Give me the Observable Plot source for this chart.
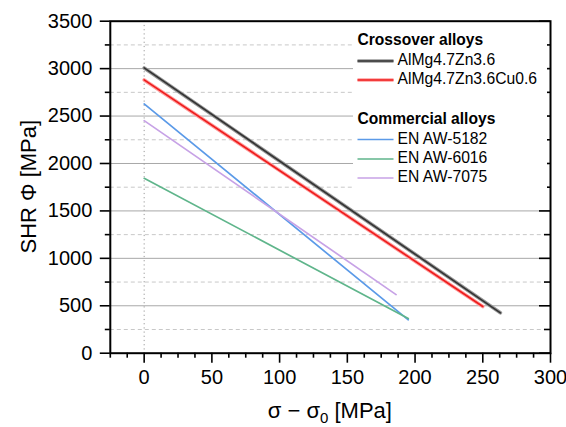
<!DOCTYPE html>
<html><head><meta charset="utf-8">
<script src="https://cdn.jsdelivr.net/npm/d3@7"></script>
<script src="https://cdn.jsdelivr.net/npm/@observablehq/plot@0.6"></script>
<style>
html,body{margin:0;padding:0;background:#fff;}
#chart{width:566px;height:427px;}
</style>
</head><body><div id="chart"></div>
<script>
// Series: straight lines, [x0, y0] -> [x1, y1]
const seriesNames = ["AlMg4.7Zn3.6", "AlMg4.7Zn3.6Cu0.6", "EN AW-5182", "EN AW-6016", "EN AW-7075"];
const xStart = [0, 0, 0, 0, 0];
const yStart = [3007, 2881, 2628, 1844, 2452];
const xEnd = [263, 250, 195, 195, 186];
const yEnd = [426, 492, 352, 366, 618];
const seriesColors = ["#333333", "#ee1c1c", "#5b9ae8", "#5fb58b", "#c7a2e6"];
const haloColors = ["#999999", "#ff9c9c", null, null, null];
const groupTitles = ["Crossover alloys", "Commercial alloys"];

const xMajor = [0, 50, 100, 150, 200, 250, 300];
const xMinor = d3.range(-25, 300.01, 12.5).filter(v => !xMajor.includes(v));
const yMajor = [0, 500, 1000, 1500, 2000, 2500, 3000, 3500];
const yMinor = d3.range(250, 3500, 500);

const rows = [];
seriesNames.forEach((s, i) => {
  rows.push({series: s, i, x: xStart[i], y: yStart[i]});
  rows.push({series: s, i, x: xEnd[i], y: yEnd[i]});
});
const halo = rows.filter(d => haloColors[d.i]);

const W = 566, H = 427, ML = 109.8, MR = 16, MT = 20.7, MB = 74.3;
const innerW = W - ML - MR;
const font = "'Liberation Sans', Arial, sans-serif";
const fmt = d3.format("d");

const plot = Plot.plot({
  width: W, height: H,
  marginLeft: ML, marginRight: MR, marginTop: MT, marginBottom: MB,
  style: {fontFamily: font, fontSize: "20px", color: "#000", background: "#fff"},
  x: {domain: [-25, 300]},
  y: {domain: [0, 3500]},
  marks: [
    Plot.ruleY(yMinor, {stroke: "#c8c8c8", strokeDasharray: "4,3", strokeWidth: 1}),
    Plot.ruleY(yMajor.filter(v => v > 0 && v < 3500), {stroke: "#a8a8a8", strokeWidth: 1}),
    Plot.ruleX([0], {stroke: "#999", strokeDasharray: "1.2,3", strokeWidth: 1}),
    Plot.line(halo, {x: "x", y: "y", z: "series", stroke: d => haloColors[d.i], strokeWidth: 3.6}),
    Plot.line(rows, {x: "x", y: "y", z: "series", stroke: d => seriesColors[d.i], strokeWidth: d => haloColors[d.i] ? 1.6 : 1.7}),
    Plot.axisX({ticks: xMajor, tickSize: 10, tickPadding: 7, tickFormat: fmt, label: null, fontSize: 20, strokeWidth: 1.6}),
    Plot.axisX({ticks: xMinor, tickSize: 5, text: null, label: null, strokeWidth: 1.6}),
    Plot.axisY({ticks: yMajor, tickSize: 10, tickPadding: 8, tickFormat: fmt, label: null, fontSize: 20, strokeWidth: 1.6}),
    Plot.axisY({ticks: yMinor, tickSize: 5, text: null, label: null, strokeWidth: 1.6}),
    Plot.tickY(yMajor, {y: d => d, insetLeft: innerW - 11, stroke: "#000", strokeWidth: 1.6}),
    Plot.tickY(yMinor, {y: d => d, insetLeft: innerW - 6, stroke: "#000", strokeWidth: 1.6}),
    Plot.frame({stroke: "#000", strokeWidth: 2})
  ]
});

const svg = d3.select(plot);

// axis titles
const cy = MT + (H - MT - MB) / 2;
svg.append("text").attr("x", 30).attr("y", cy).attr("transform", `rotate(-90,30,${cy})`)
  .attr("text-anchor", "middle").attr("dominant-baseline", "middle")
  .style("font-family", font).style("font-size", "22px").text("SHR Φ [MPa]");
const xt = svg.append("text").attr("x", ML + innerW / 2).attr("y", 418).attr("text-anchor", "middle")
  .style("font-family", font).style("font-size", "22px");
xt.append("tspan").text("σ − σ");
xt.append("tspan").attr("dy", 5).style("font-size", "15px").text("0");
xt.append("tspan").attr("dy", -5).text(" [MPa]");

// legend
const lg = svg.append("g").style("font-family", font).attr("text-anchor", "start");
lg.append("rect").attr("x", 353).attr("y", 24).attr("width", 194).attr("height", 164).attr("fill", "#fff");
const lx = 357.5, ly = [41, 61, 80, 119.5, 139.5, 159, 178];
const entries = [
  {t: groupTitles[0], bold: true}, {i: 0}, {i: 1},
  {t: groupTitles[1], bold: true}, {i: 2}, {i: 3}, {i: 4}
];
entries.forEach((e, k) => {
  const y = ly[k];
  if (e.bold) {
    lg.append("text").attr("x", lx).attr("y", y).attr("dominant-baseline", "middle").attr("text-anchor", "start")
      .style("font-weight", "bold").style("font-size", "15.6px").text(e.t);
  } else {
    if (haloColors[e.i]) lg.append("line").attr("x1", lx).attr("x2", lx + 36).attr("y1", y).attr("y2", y)
      .attr("stroke", haloColors[e.i]).attr("stroke-width", 3.6);
    lg.append("line").attr("x1", lx).attr("x2", lx + 36).attr("y1", y).attr("y2", y)
      .attr("stroke", seriesColors[e.i]).attr("stroke-width", haloColors[e.i] ? 1.6 : 1.7);
    lg.append("text").attr("x", lx + 40).attr("y", y).attr("dominant-baseline", "middle").attr("text-anchor", "start")
      .style("font-size", "15.7px").text(seriesNames[e.i]);
  }
});

document.getElementById("chart").append(plot);
</script>
</body></html>
